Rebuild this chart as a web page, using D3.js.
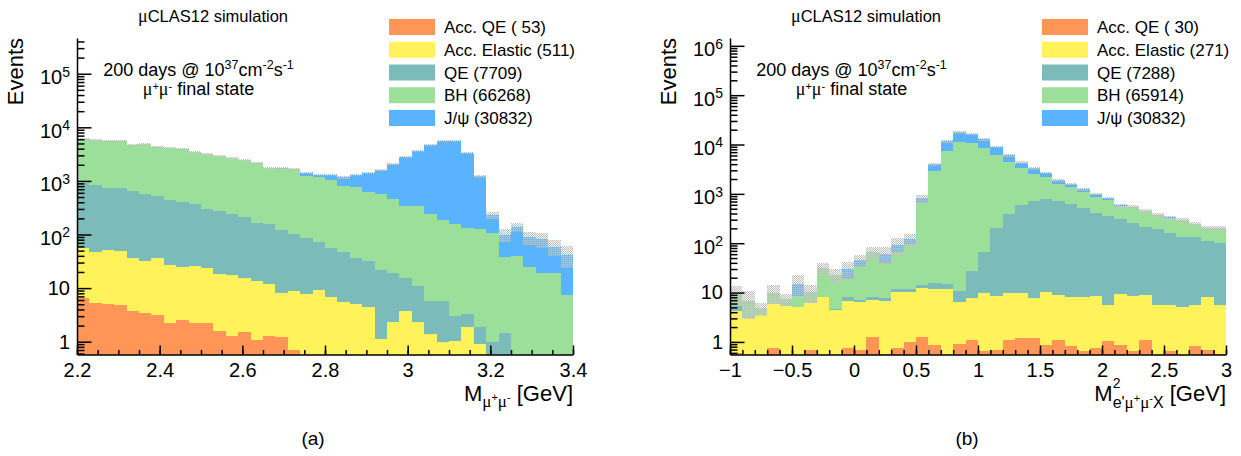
<!DOCTYPE html>
<html>
<head>
<meta charset="utf-8">
<script src="https://cdn.jsdelivr.net/npm/d3@7"></script>
<style>
  body { margin: 0; background: #fff; }
  svg { display: block; }
  text { font-family: "Liberation Sans", Arial, Helvetica, sans-serif; fill: #000; }
</style>
</head>
<body>
<svg id="chart" width="1241" height="456"></svg>
<script>
// ---- binning of the two histograms ----
const binsA = { lo: 2.2, hi: 3.4, n: 40 };   // M(mu+mu-) [GeV]
const binsB = { lo: -1,  hi: 3,   n: 40 };   // missing mass squared [GeV^2]

// ---- stack components, events per bin (panel a) ----
const accQE_a = [6.6,5.3,5.0,4.8,3.8,3.4,3.1,2.2,2.5,2.2, 2.2,1.6,1.3,1.5,1.06,1.3,1.25,0.69,0,0,
                 0,0,0,0,0,0,0,0,0,0, 0,0,0,0,0,0,0,0,0,0];
const accEl_a = [48.4,41.7,47,44.2,32.2,28.6,33.9,25.3,22.5,23.8, 21.5,16.7,16.2,13.9,12.5,10.7,6.9,8.1,7.7,9.2,
                 6.7,5.6,5.0,4.4,1.1,2.3,3.8,2.3,1.4,0.97, 1.03,1.9,0.9,0,0,0,0,0,0,0];
const qe_a    = [845,790,696,677,601,535,480,411,378,348, 279,257,227,195,149,146,114,92,80,63,
                 50,41,31,28,21,16.5,11.6,8.8,4.4,4.8, 2.0,1.4,1.0,0.97,1.43,0,0,0,0,0];
const bh_a    = [5140,4990,4890,4820,4100,4240,3810,3610,3480,3140, 2870,2690,2460,2280,2030,1620,1570,1550,1160,1120,
                 983,765,729,597,538,441,328,329,235,180, 157,127,123,107,36.6,40,25,19,19,7.3];
const jpsi_a  = [0,0,0,0,0,0,0,0,0,0, 0,0,0,0,0,0,70,10,140,95,
                 250,353,525,791,1060,1570,2410,3260,4430,5430, 5380,3170,1085,123,61,98,63,62,40,35];
const err_a   = [240,230,220,220,190,190,170,160,150,140, 125,115,105,100,90,75,75,70,65,60,
                 60,60,60,65,70,85,110,140,170,200, 200,140,60,36,26,28,25,24,20,19];

// ---- stack components, events per bin (panel b) ----
const accQE_b = [0.6,0,0,0.76,0,0,0.7,0,0,0.76, 0.7,1.24,0.57,0.76,1.0,1.24,0.88,0,0.9,1.07,
                 0.64,0.69,1.08,1.2,1.2,0.88,1.08,0.82,0.65,0.76, 1.02,0.88,0.65,1.07,0,0.65,0,0.82,0.7,0.58];
const accEl_b = [3.6,3.07,3.47,5.14,5.4,5.1,5.5,8.2,4.5,5.94, 5.7,5.96,6.13,9.74,9.5,10.96,11.12,11.7,5.6,6.53,
                 9.36,7.81,8.62,8.6,6.5,9.52,7.82,7.38,7.65,7.74, 4.58,8.32,7.95,8.03,5.7,5.05,5.1,4.68,7.3,5.02];
const qe_b    = [1.1,0,0,0,0,0,0,0,0.2,1.5, 0.8,1.0,1.2,1.3,1.1,1.8,3.5,3.5,4.5,19.4,
                 56.7,195.5,377,579,702,781,712,629,497,404, 352,297,249,205,186,156,129,129,103,96];
const bh_b    = [4.05,3.7,1.33,4.1,1.9,3.4,3.95,22.8,18.3,11, 25.8,57.8,32.1,53.2,86.4,642,2835,7285,10989,10873,
                 8533,5946,3943,2681,1865,1454,864,728,570,443, 385,271,291,236,179,168,160,109,89,101];
const jpsi_b  = [0,0,0,0,0,6.7,0,0,0,11.4, 12,0,20,25,22,154,1100,4300,6600,5600,
                 4100,2800,1700,1000,700,420,305,215,165,135, 82,8,6,5,4,3,3,2,2,2];
const err_b   = [4.05,3.8,1.4,4,1.9,7.1,3.95,8.4,7.6,11.4, 12,18,22,36,37,160,320,700,1050,1000,
                 760,540,360,260,190,155,115,95,75,60, 50,45,42,36,30,27,24,20,17,17];

// ---- labels ----
const seriesKeys   = ["accQE", "accEl", "qe", "bh", "jpsi"];
const seriesNames  = ["Acc. QE", "Acc. Elastic", "QE", "BH", "J/\u03c8"];
const countsA      = ["( 53)", "(511)", "(7709)", "(66268)", "(30832)"];
const countsB      = ["( 30)", "(271)", "(7288)", "(65914)", "(30832)"];
const xTicksA      = [2.2, 2.4, 2.6, 2.8, 3.0, 3.2, 3.4];
const xTicksB      = [-1, -0.5, 0, 0.5, 1, 1.5, 2, 2.5, 3];
const yExpA        = [0, 1, 2, 3, 4, 5];
const yExpB        = [0, 1, 2, 3, 4, 5, 6];
const colors       = ["#ff9658", "#fff25a", "#7bbcba", "#9cdf9b", "#59b3ff"];

const Y_TOP = 38, Y_BOT = 354.5;
const SERIF = "Liberation Serif, serif";
const svg = d3.select("#chart");

// stat. error band texture
const defs = svg.append("defs");
const pat = defs.append("pattern").attr("id", "errdots")
  .attr("width", 2).attr("height", 2).attr("patternUnits", "userSpaceOnUse");
pat.append("rect").attr("x", 0).attr("y", 0).attr("width", 1).attr("height", 1).attr("fill", "#bcbcbc");
pat.append("rect").attr("x", 1).attr("y", 1).attr("width", 1).attr("height", 1).attr("fill", "#bcbcbc");
pat.append("rect").attr("x", 1).attr("y", 0).attr("width", 1).attr("height", 1).attr("fill", "#e4e4e4").attr("fill-opacity", 0.35);

function drawPanel(cfg) {
  const edges = d3.range(cfg.bins.n + 1).map(i => cfg.bins.lo + i * (cfg.bins.hi - cfg.bins.lo) / cfg.bins.n);
  const x = d3.scaleLinear().domain([cfg.bins.lo, cfg.bins.hi]).range([cfg.x0, cfg.x1]);
  const y = d3.scaleLog().domain(cfg.yDom).range([Y_BOT, Y_TOP]).clamp(true);
  const cv = v => Math.max(v, cfg.yDom[0]);

  const rows = edges.slice(0, -1).map((e, i) => {
    const r = { lo: e, hi: edges[i + 1] };
    seriesKeys.forEach((k, j) => { r[k] = cfg.series[j][i]; });
    return r;
  });
  const layers = d3.stack().keys(seriesKeys)(rows);

  const g = svg.append("g");

  // cumulative histograms, drawn from the top layer down
  const area = d3.area().curve(d3.curveStepAfter)
    .x(p => x(p.x)).y0(Y_BOT).y1(p => y(cv(p.v)));
  for (let k = layers.length - 1; k >= 0; k--) {
    const pts = layers[k].map((d, i) => ({ x: edges[i], v: d[1] }));
    pts.push({ x: edges[edges.length - 1], v: pts[pts.length - 1].v });
    g.append("path").attr("d", area(pts)).attr("fill", colors[k])
      .attr("shape-rendering", "crispEdges");
  }

  // error band on the total
  const top = layers[layers.length - 1];
  g.append("g").selectAll("rect").data(top).join("rect")
    .attr("x", (d, i) => x(edges[i]))
    .attr("width", (d, i) => x(edges[i + 1]) - x(edges[i]))
    .attr("y", (d, i) => y(d[1] + cfg.err[i]))
    .attr("height", (d, i) => y(cv(d[1] - cfg.err[i])) - y(d[1] + cfg.err[i]))
    .attr("fill", "url(#errdots)")
    .attr("shape-rendering", "crispEdges");

  // x axis: minor then major ticks
  const minorX = d3.range(Math.round((cfg.bins.hi - cfg.bins.lo) / cfg.xMinor) + 1)
    .map(i => cfg.bins.lo + i * cfg.xMinor);
  const gxm = g.append("g").attr("transform", `translate(0,${Y_BOT})`)
    .call(d3.axisBottom(x).tickValues(minorX).tickSize(-4.5).tickSizeOuter(0).tickFormat(""));
  gxm.select(".domain").remove();
  const gx = g.append("g").attr("transform", `translate(0,${Y_BOT})`)
    .call(d3.axisBottom(x).tickValues(cfg.xTicks).tickSize(-9).tickSizeOuter(0)
      .tickPadding(8).tickFormat(d3.format("~g")));
  gx.attr("font-size", 20).attr("font-family", null);

  // y axis: minor then major ticks
  const minorY = [];
  for (let e = -1; e <= 7; e++) for (let m = 2; m <= 9; m++) {
    const v = m * Math.pow(10, e);
    if (v >= cfg.yDom[0] && v <= cfg.yDom[1]) minorY.push(v);
  }
  const gym = g.append("g").attr("transform", `translate(${cfg.x0},0)`)
    .call(d3.axisLeft(y).tickValues(minorY).tickSize(-7.5).tickSizeOuter(0).tickFormat(""));
  gym.select(".domain").remove();
  const gy = g.append("g").attr("transform", `translate(${cfg.x0},0)`)
    .call(d3.axisLeft(y).tickValues(cfg.yExp.map(k => Math.pow(10, k)))
      .tickSize(-14.5).tickSizeOuter(0).tickPadding(7));
  gy.attr("font-size", 20).attr("font-family", null);
  gy.selectAll(".tick text").each(function (d) {
    const t = d3.select(this);
    const k = Math.round(Math.log10(d));
    t.text(null);
    if (k < 2) {
      t.text(k === 0 ? "1" : "10");
    } else {
      t.attr("dy", "0.5em");
      t.append("tspan").text("10");
      t.append("tspan").attr("dy", "-0.55em").attr("font-size", "14px").text(k);
    }
  });

  g.selectAll(".domain, .tick line").attr("stroke", "#000").attr("stroke-width", 1.5);

  // y title
  g.append("text").attr("transform", `translate(${cfg.x0 - 54},${Y_TOP}) rotate(-90)`)
    .attr("text-anchor", "end").attr("font-size", 22).text("Events");

  // header
  const hd = g.append("text").attr("x", cfg.x0 + 61).attr("y", 21.5).attr("font-size", 16.5);
  hd.append("tspan").attr("font-family", SERIF).attr("font-size", 18).text("\u03bc");
  hd.append("tspan").text("CLAS12 simulation");

  // running conditions
  const cx = cfg.x0 + 121.5;
  const l1 = g.append("text").attr("x", cx).attr("y", 76).attr("text-anchor", "middle").attr("font-size", 18);
  l1.append("tspan").text("200 days @ 10");
  l1.append("tspan").attr("dy", -7).attr("font-size", 12.5).text("37");
  l1.append("tspan").attr("dy", 7).text("cm");
  l1.append("tspan").attr("dy", -7).attr("font-size", 12.5).text("-2");
  l1.append("tspan").attr("dy", 7).text("s");
  l1.append("tspan").attr("dy", -7).attr("font-size", 12.5).text("-1");
  const l2 = g.append("text").attr("x", cx).attr("y", 95).attr("text-anchor", "middle").attr("font-size", 18);
  l2.append("tspan").attr("font-family", SERIF).attr("font-size", 18).text("\u03bc");
  l2.append("tspan").attr("dy", -5).attr("font-size", 11).text("+");
  l2.append("tspan").attr("dy", 5).attr("font-family", SERIF).attr("font-size", 18).text("\u03bc");
  l2.append("tspan").attr("dy", -5).attr("font-size", 11).text("-");
  l2.append("tspan").attr("dy", 5).text(" final state");

  // legend
  const lg = g.append("g");
  seriesNames.forEach((name, i) => {
    const cy = 27 + i * 22.75;
    lg.append("rect").attr("x", cfg.x0 + 312).attr("y", cy - 8).attr("width", 46).attr("height", 16)
      .attr("fill", colors[i]);
    lg.append("text").attr("x", cfg.x0 + 367).attr("y", cy + 6).attr("font-size", 17)
      .text(name + " " + cfg.counts[i]);
  });

  // x title
  cfg.xTitle(g.append("text").attr("x", cfg.x1).attr("y", 400.5)
    .attr("text-anchor", "end").attr("font-size", 22));

  // caption
  g.append("text").attr("x", cfg.capX).attr("y", 445).attr("text-anchor", "middle")
    .attr("font-family", SERIF).attr("font-size", 19).text(cfg.cap);
}

function muPair(t, dy0) {
  t.append("tspan").attr("dy", dy0).attr("font-family", SERIF).attr("font-size", 17).text("\u03bc");
  t.append("tspan").attr("dy", -6).attr("font-size", 11).text("+");
  t.append("tspan").attr("dy", 6).attr("font-family", SERIF).attr("font-size", 17).text("\u03bc");
  t.append("tspan").attr("dy", -6).attr("font-size", 11).text("-");
}

drawPanel({
  x0: 77, x1: 573, yDom: [0.577, 4.64e5], bins: binsA,
  series: [accQE_a, accEl_a, qe_a, bh_a, jpsi_a], err: err_a,
  xTicks: xTicksA, xMinor: 0.05, yExp: yExpA, counts: countsA,
  capX: 313, cap: "(a)",
  xTitle: t => {
    t.append("tspan").text("M");
    muPair(t, 6);
    t.append("tspan").attr("dy", 0).text(" [GeV]");
  }
});

drawPanel({
  x0: 730, x1: 1226, yDom: [0.556, 1.44e6], bins: binsB,
  series: [accQE_b, accEl_b, qe_b, bh_b, jpsi_b], err: err_b,
  xTicks: xTicksB, xMinor: 0.1, yExp: yExpB, counts: countsB,
  capX: 967, cap: "(b)",
  xTitle: t => {
    t.append("tspan").text("M");
    t.append("tspan").attr("dy", -13).attr("font-size", 14).text("2");
    t.append("tspan").attr("dx", -7.8).attr("dy", 20).attr("font-size", 16).text("e'");
    muPair(t, 0);
    t.append("tspan").attr("dy", 6).attr("font-size", 16).text("X");
    t.append("tspan").attr("dy", -7).text(" [GeV]");
  }
});
</script>
</body>
</html>
